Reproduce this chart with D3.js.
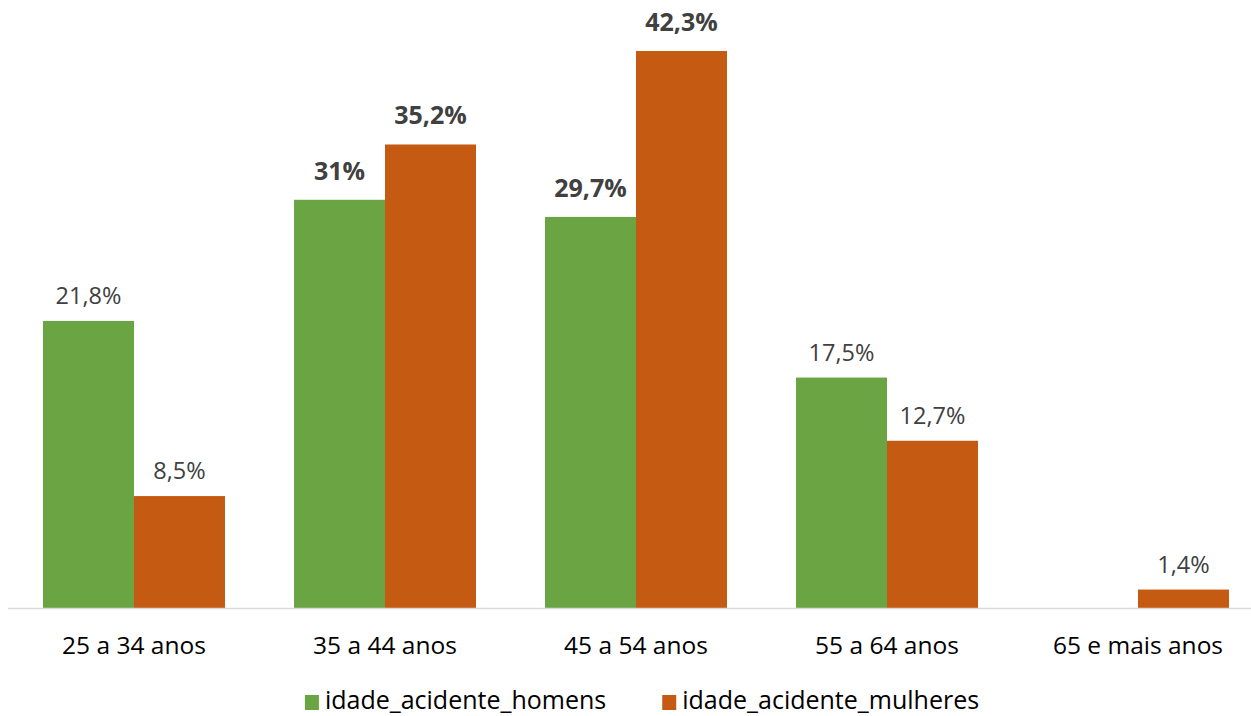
<!DOCTYPE html>
<html><head><meta charset="utf-8">
<script src="https://cdn.jsdelivr.net/npm/d3@7"></script>
<style>body{margin:0;background:#fff}svg{display:block}</style>
</head><body>
<script>
const categories = ["25 a 34 anos","35 a 44 anos","45 a 54 anos","55 a 64 anos","65 e mais anos"];
const seriesNames = ["idade_acidente_homens","idade_acidente_mulheres"];
const homens = [21.8, 31, 29.7, 17.5, null];
const mulheres = [8.5, 35.2, 42.3, 12.7, 1.4];
const boldCategories = ["35 a 44 anos","45 a 54 anos"];
const colors = ["#6aa443","#c55a12"];

const W=1251,H=716;
const svg=d3.select("body").append("svg").attr("width",W).attr("height",H);
const font="'Open Sans', sans-serif";
const x=d3.scaleBand().domain(categories).range([8.5,1263.5]).paddingInner(0.275).paddingOuter(0.1375);
const xs=d3.scaleBand().domain(seriesNames).range([0,x.bandwidth()]);
const y=d3.scaleLinear().domain([0,45]).range([608,608-45*13.168]);

const data=[];
categories.forEach((c,i)=>{
  [homens,mulheres].forEach((arr,j)=>{
    if(arr[i]!=null) data.push({c,s:seriesNames[j],v:arr[i],j,b:boldCategories.includes(c)});
  });
});
const fmt=v=>String(v).replace(".",",")+"%";

svg.append("g").selectAll("rect").data(data).join("rect")
  .attr("x",d=>x(d.c)+xs(d.s)).attr("width",xs.bandwidth())
  .attr("y",d=>y(d.v)).attr("height",d=>y(0)-y(d.v))
  .attr("fill",d=>colors[d.j]);

svg.append("line").attr("x1",8).attr("x2",W).attr("y1",608.5).attr("y2",608.5)
  .attr("stroke","#d9d9d9").attr("stroke-width",1.5);

svg.append("g").selectAll("text").data(data).join("text")
  .attr("x",d=>x(d.c)+xs(d.s)+xs.bandwidth()/2).attr("y",d=>y(d.v)-(d.b?20:17))
  .attr("text-anchor","middle").attr("font-family",font).attr("font-size",d=>d.b?25:23.5)
  .attr("font-weight",d=>d.b?"bold":"normal")
  .attr("fill","#404040").text(d=>fmt(d.v));

const xAxis=svg.append("g").attr("transform","translate(0,608)")
  .call(d3.axisBottom(x).tickSize(0).tickPadding(0));
xAxis.select(".domain").remove();
xAxis.selectAll("text").attr("dy",null).attr("y",46).attr("font-family",font).attr("font-size",24.5).attr("fill","#000");

// legend
const lg=svg.append("g");
let items=seriesNames.map((n,i)=>{
  const g=lg.append("g");
  g.append("rect").attr("width",14).attr("height",15).attr("y",-14).attr("fill",colors[i]);
  const t=g.append("text").attr("x",20).attr("y",0).attr("font-family",font).attr("font-size",25).attr("fill","#000").text(n);
  return {g,w:20+t.node().getComputedTextLength()};
});
const gap=56;
const total=items[0].w+gap+items[1].w;
let lx=642-total/2;
items.forEach((it,i)=>{it.g.attr("transform",`translate(${lx},${709})`);lx+=it.w+gap;});
</script>
</body></html>
